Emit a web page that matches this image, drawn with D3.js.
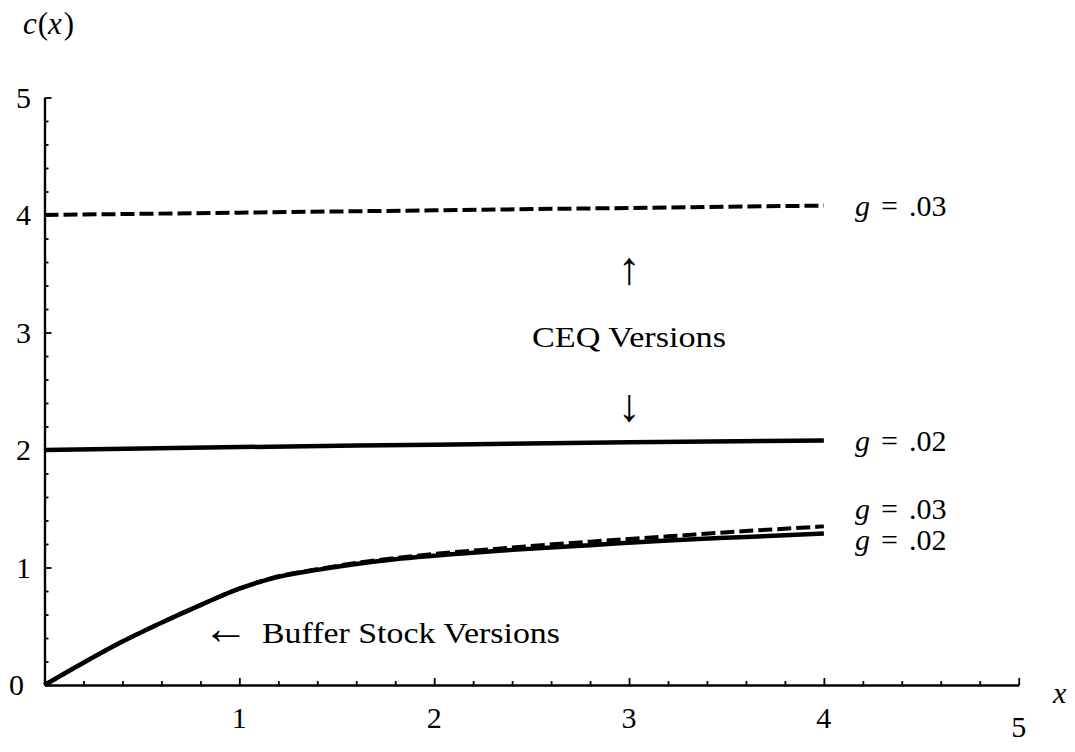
<!DOCTYPE html>
<html>
<head>
<meta charset="utf-8">
<script src="https://cdn.jsdelivr.net/npm/d3@7"></script>
<style>
  html, body { margin: 0; padding: 0; background: #fff; }
  svg { display: block; }
</style>
</head>
<body>
<svg id="chart" width="1075" height="752"></svg>
<script>
// ---- Data ----
const xTicks = [1, 2, 3, 4, 5];
const yTicks = [0, 1, 2, 3, 4, 5];
const minorStep = 0.2;

const bufferX = [0, 0.2, 0.4, 0.6, 0.8, 1.0, 1.2, 1.4, 1.6, 1.8, 2.0, 2.4, 2.8, 3.2, 3.6, 4.0];
const bufferG02 = [0, 0.19, 0.37, 0.53, 0.68, 0.82, 0.92, 0.98, 1.03, 1.07, 1.10, 1.15, 1.19, 1.23, 1.26, 1.29];
const bufferG03 = [0, 0.19, 0.37, 0.53, 0.68, 0.82, 0.925, 0.985, 1.04, 1.08, 1.115, 1.17, 1.22, 1.265, 1.31, 1.35];

const ceqX = [0, 1, 2, 3, 4];
const ceqG02 = [2.0, 2.025, 2.045, 2.065, 2.08];
const ceqG03 = [4.0, 4.02, 4.04, 4.06, 4.08];

const seriesLabels = ["g = .03", "g = .02", "g = .03", "g = .02"];

// ---- Setup ----
const SERIF = "'Liberation Serif', 'Times New Roman', serif";
const svg = d3.select("#chart");
const x = d3.scaleLinear().domain([0, 5]).range([44.5, 1018.7]);
const y = d3.scaleLinear().domain([0, 5]).range([685, 97.5]);

function txt(parent) {
  return parent.append("text").style("font-family", SERIF).attr("fill", "#000");
}

const minorVals = d3.range(0, 5.0001, minorStep).map(v => +v.toFixed(1)).filter(v => v > 0);

// ---- Axes ----
const xMinor = d3.axisBottom(x).tickValues(minorVals.filter(v => !xTicks.includes(v))).tickSizeInner(-4).tickSizeOuter(0).tickFormat("");
const xMajor = d3.axisBottom(x).tickValues(xTicks).tickSizeInner(-7).tickSizeOuter(0).tickFormat("");
const yMinor = d3.axisLeft(y).tickValues(minorVals.filter(v => !yTicks.includes(v))).tickSizeInner(-4).tickSizeOuter(0).tickFormat("");
const yMajor = d3.axisLeft(y).tickValues(yTicks.filter(v => v > 0)).tickSizeInner(-7).tickSizeOuter(0).tickFormat("");

function styleAxis(g) {
  g.selectAll("path.domain").attr("stroke", "#000").attr("stroke-width", 2.2);
  g.selectAll(".tick line").attr("stroke", "#000").attr("stroke-width", 1.8);
}
svg.append("g").attr("transform", `translate(0,${y(0)})`).call(xMinor).call(styleAxis);
svg.append("g").attr("transform", `translate(0,${y(0)})`).call(xMajor).call(styleAxis);
svg.append("g").attr("transform", `translate(${x(0)},0)`).call(yMinor).call(styleAxis);
svg.append("g").attr("transform", `translate(${x(0)},0)`).call(yMajor).call(styleAxis);

// Tick labels
const xl = svg.append("g");
xTicks.forEach(d => {
  txt(xl).attr("x", x(d)).attr("y", d === 5 ? 737 : 728)
    .attr("text-anchor", "middle").attr("font-size", 30).text(d);
});
const yl = svg.append("g");
yTicks.forEach(d => {
  txt(yl).attr("x", d === 0 ? 24 : 31).attr("y", y(d) + 10)
    .attr("text-anchor", "end").attr("font-size", 30).text(d);
});

// Axis titles
const cx = txt(svg).attr("x", 23).attr("y", 34).attr("font-size", 31);
cx.append("tspan").attr("font-style", "italic").text("c");
cx.append("tspan").attr("dx", 1).text("(");
cx.append("tspan").attr("font-style", "italic").text("x");
cx.append("tspan").attr("dx", 2).text(")");

txt(svg).attr("x", 1053).attr("y", 703).attr("font-size", 30)
  .attr("font-style", "italic").text("x");

// ---- Lines ----
const line = d3.line().x(d => x(d[0])).y(d => y(d[1])).curve(d3.curveMonotoneX);

function drawSeries(xs, ys, dashed, width) {
  svg.append("path")
    .datum(xs.map((v, i) => [v, ys[i]]))
    .attr("fill", "none")
    .attr("stroke", "#000")
    .attr("stroke-width", width)
    .attr("stroke-dasharray", dashed ? "14,5" : null)
    .attr("d", line);
}
drawSeries(ceqX, ceqG03, true, 4);
drawSeries(ceqX, ceqG02, false, 4.5);
drawSeries(bufferX, bufferG03, true, 4);
drawSeries(bufferX, bufferG02, false, 4.5);

// ---- Series labels ----
const labelY = [216, 451, 519, 550];
function gLabel(s, yy) {
  const t = txt(svg).attr("x", 855).attr("y", yy).attr("font-size", 30);
  const parts = s.split(" ");
  t.append("tspan").attr("font-style", "italic").text(parts[0]);
  t.append("tspan").attr("dx", 11).text(parts[1]);
  t.append("tspan").attr("dx", 11).text(parts[2]);
}
seriesLabels.forEach((s, i) => gLabel(s, labelY[i]));

// ---- Annotations ----
txt(svg).attr("x", 629).attr("y", 284).attr("text-anchor", "middle").attr("font-size", 46).text("↑");
txt(svg).attr("x", 629).attr("y", 347).attr("text-anchor", "middle").attr("font-size", 30)
  .attr("textLength", 194).attr("lengthAdjust", "spacingAndGlyphs").text("CEQ Versions");
txt(svg).attr("x", 629).attr("y", 421).attr("text-anchor", "middle").attr("font-size", 46).text("↓");

txt(svg).attr("x", 203).attr("y", 644).attr("font-size", 46).text("←");
txt(svg).attr("x", 262).attr("y", 643).attr("font-size", 30)
  .attr("textLength", 298).attr("lengthAdjust", "spacingAndGlyphs").text("Buffer Stock Versions");
</script>
</body>
</html>
